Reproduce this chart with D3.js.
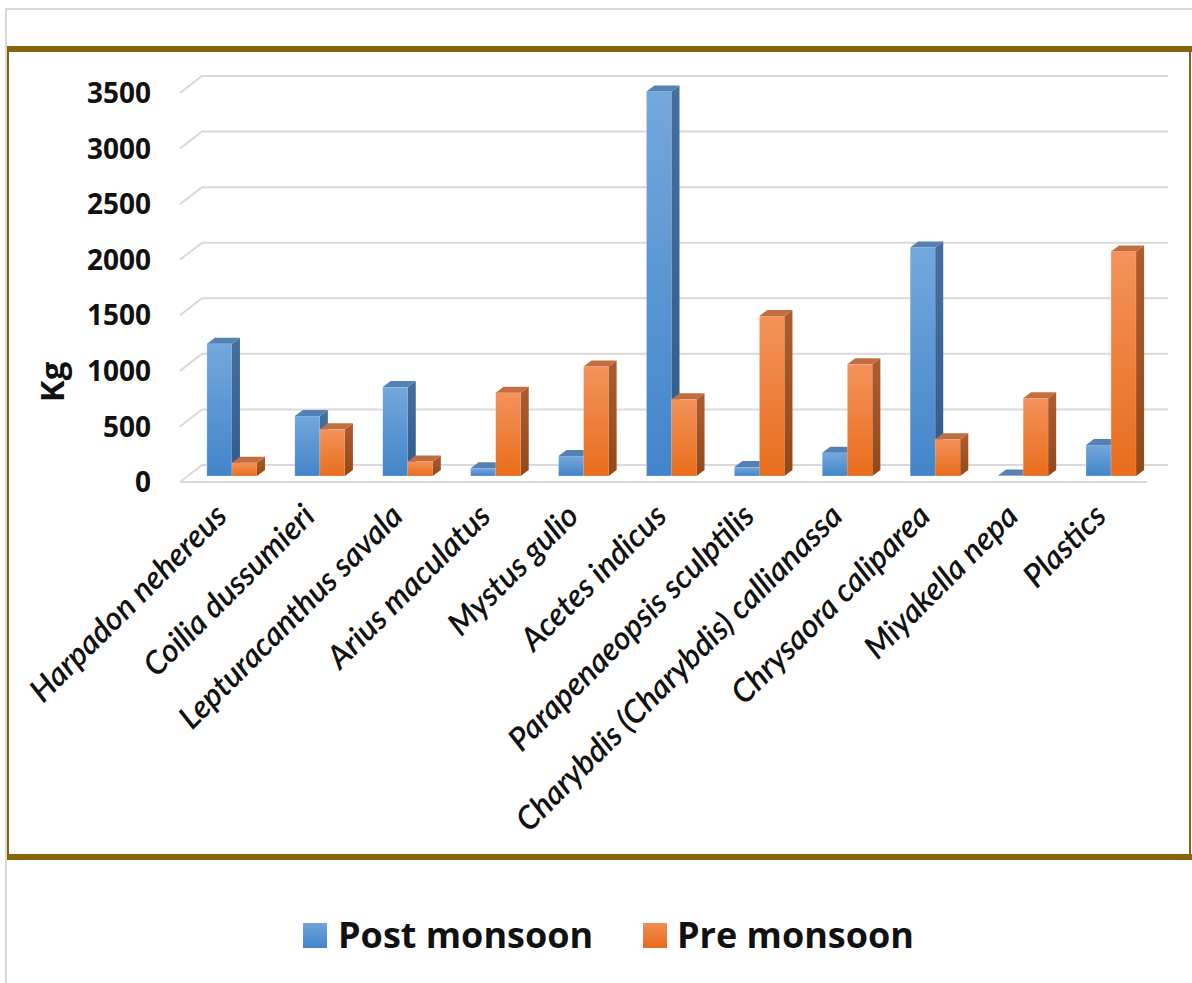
<!DOCTYPE html>
<html>
<head>
<meta charset="utf-8">
<script src="https://cdn.jsdelivr.net/npm/d3@7"></script>
<style>
  html, body { margin: 0; padding: 0; background: #fff; }
  svg { display: block; }
</style>
</head>
<body>
<script>
const categories = ["Harpadon nehereus", "Coilia dussumieri", "Lepturacanthus savala", "Arius maculatus",
  "Mystus gulio", "Acetes indicus", "Parapenaeopsis sculptilis", "Charybdis (Charybdis) callianassa",
  "Chrysaora caliparea", "Miyakella nepa", "Plastics"];
const seriesNames = ["Post monsoon", "Pre monsoon"];
const postMonsoon = [1190, 540, 800, 70, 180, 3460, 80, 210, 2055, 5, 280];
const preMonsoon = [120, 420, 130, 750, 985, 690, 1440, 1005, 330, 700, 2020];
const yTicks = [0, 500, 1000, 1500, 2000, 2500, 3000, 3500];

const W = 1192, H = 983;
const svg = d3.select("body").append("svg").attr("width", W).attr("height", H);

const defs = svg.append("defs");
function grad(id, c1, c2) {
  const g = defs.append("linearGradient").attr("id", id).attr("x1", 0).attr("y1", 0).attr("x2", 0).attr("y2", 1);
  g.append("stop").attr("offset", "0%").attr("stop-color", c1);
  g.append("stop").attr("offset", "100%").attr("stop-color", c2);
}
grad("bFront", "#73a8dd", "#4384ca");
grad("bSide", "#45709e", "#2f5c8b");
grad("oFront", "#f4925a", "#e86d1c");
grad("oSide", "#ad5d2e", "#954817");
grad("lb", "#6fa6dc", "#4283c9");
grad("lo", "#f38d54", "#e66a1a");

const colors = [
  { front: "url(#bFront)", side: "url(#bSide)", top: "#5381b3" },
  { front: "url(#oFront)", side: "url(#oSide)", top: "#c46d3f" }
];

// outer frame
svg.append("rect").attr("x", 6).attr("y", 9).attr("width", W + 10).attr("height", H + 10)
  .attr("fill", "none").attr("stroke", "#d9d9d9").attr("stroke-width", 2);
// gold frame
const gold = "#876309";
svg.append("rect").attr("x", 8).attr("y", 49).attr("width", 1182).attr("height", 808)
  .attr("fill", "none").attr("stroke", gold).attr("stroke-width", 2);
svg.append("rect").attr("x", 7).attr("y", 46).attr("width", W).attr("height", 6).attr("fill", gold);
svg.append("rect").attr("x", 7).attr("y", 854).attr("width", W).attr("height", 6).attr("fill", gold);

// scales: front edge, back wall, bar plane
const yFront = d3.scaleLinear().domain([0, 3500]).range([482, 93]);
const yBack = d3.scaleLinear().domain([0, 3500]).range([465, 76]);
const yBar = d3.scaleLinear().domain([0, 3500]).range([476, 87]);
const x = d3.scaleBand().domain(categories).range([188, 1155]).paddingInner(0.43).paddingOuter(0.215);
const xs = d3.scaleBand().domain(seriesNames).range([0, x.bandwidth()]);

const frontX0 = 180, backX0 = 202, backX1 = 1168, frontX1 = 1147;
const grid = svg.append("g").attr("stroke", "#d9d9d9").attr("stroke-width", 2).attr("fill", "none");
yTicks.forEach(v => {
  grid.append("path").attr("d", `M${frontX0},${yFront(v)}L${backX0},${yBack(v)}L${backX1},${yBack(v)}`);
});
grid.append("line").attr("x1", frontX0).attr("x2", frontX1).attr("y1", yFront(0)).attr("y2", yFront(0));

// y tick labels
svg.append("g").selectAll("text").data(yTicks).join("text")
  .attr("x", 151).attr("y", d => yFront(d)).attr("dy", "0.36em")
  .attr("text-anchor", "end")
  .attr("font-family", "'Open Sans', sans-serif").attr("font-weight", 700).attr("font-size", 28)
  .attr("fill", "#111").text(d => d);

// axis title
svg.append("text").attr("transform", "translate(64,382) rotate(-90)")
  .attr("text-anchor", "middle")
  .attr("font-family", "'Open Sans', sans-serif").attr("font-weight", 700).attr("font-size", 33)
  .attr("fill", "#111").text("Kg");

// bars
const dx = 8, dy = -6;
const base = yBar(0);
const barsG = svg.append("g");
categories.forEach((c, i) => {
  [postMonsoon[i], preMonsoon[i]].forEach((v, s) => {
    const x0 = x(c) + xs(seriesNames[s]);
    const w = xs.bandwidth();
    const top = yBar(v);
    const col = colors[s];
    const g = barsG.append("g");
    g.append("rect").attr("x", x0).attr("y", top).attr("width", w).attr("height", base - top)
      .attr("fill", col.front).attr("stroke", "rgba(255,255,255,0.35)").attr("stroke-width", 0.6);
    g.append("polygon")
      .attr("points", [[x0 + w, top], [x0 + w + dx, top + dy], [x0 + w + dx, base + dy], [x0 + w, base]].join(" "))
      .attr("fill", col.side);
    g.append("polygon")
      .attr("points", [[x0, top], [x0 + dx, top + dy], [x0 + w + dx, top + dy], [x0 + w, top]].join(" "))
      .attr("fill", col.top);
  });
});

// category labels
svg.append("g").selectAll("text").data(categories).join("text")
  .attr("transform", d => `translate(${x(d) + x.bandwidth() / 2 - 3},${518}) rotate(-45)`)
  .attr("text-anchor", "end")
  .attr("font-family", "Lato, sans-serif").attr("font-style", "italic").attr("font-weight", 600)
  .attr("font-size", 32).attr("fill", "#111").text(d => d);

// legend
const legend = [
  { name: "Post monsoon", fill: "url(#lb)", sx: 303, tx: 338 },
  { name: "Pre monsoon", fill: "url(#lo)", sx: 643, tx: 677 }
];
const lg = svg.append("g");
legend.forEach(l => {
  lg.append("rect").attr("x", l.sx).attr("y", 923).attr("width", 24).attr("height", 25).attr("fill", l.fill);
  lg.append("text").attr("x", l.tx).attr("y", 948)
    .attr("font-family", "'Open Sans', sans-serif").attr("font-weight", 700).attr("font-size", 36)
    .attr("fill", "#111").text(l.name);
});
</script>
</body>
</html>
